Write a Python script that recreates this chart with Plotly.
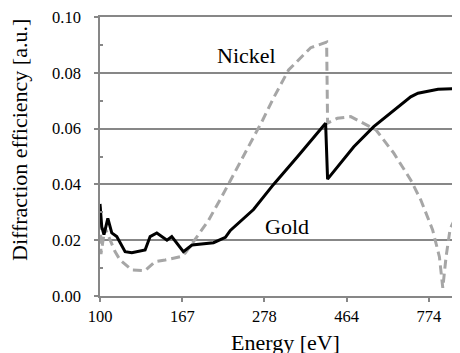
import plotly.graph_objects as go

# Gold (black solid)
gold_e = [100, 101.1, 102.5, 105.0, 107.6, 111.0, 116.9, 121.9, 132.4, 136.6, 142.4, 151.7,
          156.3, 168.0, 177.3, 188.7, 202.6, 218.2, 225.0, 259.9, 294.4, 342.0, 407.0, 412.0,
          485.0, 549.0, 662.0, 691.0, 723.0, 819.0, 928.0, 942.0]
gold_v = [0.033, 0.0248, 0.022, 0.0278, 0.0226, 0.0213, 0.0159, 0.0155, 0.0165, 0.0213, 0.0226, 0.020,
          0.0213, 0.0159, 0.0183, 0.0186, 0.0191, 0.021, 0.0235, 0.031, 0.040, 0.050, 0.0619, 0.0419,
          0.0535, 0.0607, 0.0696, 0.0714, 0.0727, 0.0741, 0.0744, 0.0744]

# Nickel (grey dashed)
nickel_e = [100, 100.6, 101.9, 103.2, 105.0, 109.8, 113.3, 121.9, 132.4, 141.0, 150.0, 164.7,
            170.1, 177.7, 196.2, 214.1, 235.1, 275.0, 294.4, 323.2, 370.9, 409.6, 412.0, 438.0,
            476.0, 557.0, 622.0, 691.0, 736.0, 792.0, 826.0, 843.7, 861.0, 883.0, 942.0]
nickel_v = [0.032, 0.015, 0.020, 0.0244, 0.022, 0.0159, 0.0129, 0.0093, 0.0091, 0.0123, 0.0129, 0.0141,
            0.0154, 0.019, 0.027, 0.036, 0.046, 0.063, 0.071, 0.081, 0.089, 0.091, 0.062, 0.0637,
            0.0643, 0.0595, 0.0512, 0.0416, 0.0344, 0.0237, 0.0141, 0.0029, 0.014, 0.024, 0.032]

x_tickvals = [100, 167, 278, 464, 774]
x_ticktext = ["100", "167", "278", "464", "774"]
y_tickvals = [0.0, 0.02, 0.04, 0.06, 0.08, 0.10]
y_ticktext = ["0.00", "0.02", "0.04", "0.06", "0.08", "0.10"]

FONT = "Liberation Serif"
GRID = "#878787"
OFF = 8  # page body margin offset
W, H = 460, 353
L, T, R = 100 - OFF, 17 - OFF, OFF
B = H - (296 - OFF)
PW, PH = W - L - R, H - T - B


def px_x(px):
    return (px - OFF - L) / PW


def px_y(py):
    return (H - B - (py - OFF)) / PH


fig = go.Figure()
fig.add_trace(go.Scatter(x=nickel_e, y=nickel_v, mode="lines",
                         line=dict(color="#a6a6a6", width=3, dash="9px,5px"),
                         name="Nickel", showlegend=False))
fig.add_trace(go.Scatter(x=gold_e, y=gold_v, mode="lines",
                         line=dict(color="black", width=3),
                         name="Gold", showlegend=False))

fig.update_layout(
    width=W, height=H,
    margin=dict(l=L, r=R, t=T, b=B, autoexpand=False),
    paper_bgcolor="white", plot_bgcolor="white",
    font=dict(family=FONT, color="black", size=16.5),
)
ann = dict(xref="paper", yref="paper", showarrow=False, xanchor="center", yanchor="middle")
fig.add_annotation(text="Nickel", x=px_x(246), y=px_y(56),
                   font=dict(family=FONT, size=22, color="black"), **ann)
fig.add_annotation(text="Gold", x=px_x(287), y=px_y(226),
                   font=dict(family=FONT, size=22, color="black"), **ann)
fig.add_annotation(text="Energy [eV]", x=px_x(285.5), y=px_y(342),
                   font=dict(family=FONT, size=22, color="black"), **ann)
fig.add_annotation(text="Diffraction efficiency [a.u.]", x=px_x(19), y=px_y(140),
                   textangle=-90, font=dict(family=FONT, size=22, color="black"), **ann)

fig.update_xaxes(type="log", range=[2, 2.9727], tickvals=x_tickvals, ticktext=x_ticktext,
                 showgrid=False, showline=True, linecolor=GRID, linewidth=1.5, mirror=True,
                 ticks="outside", ticklen=4, tickcolor=GRID, tickwidth=1.5,
                 tickfont=dict(family=FONT, size=16.5, color="black"),
                 automargin=False, zeroline=False)
fig.update_yaxes(range=[0, 0.1], tickvals=y_tickvals, ticktext=y_ticktext,
                 showgrid=True, gridcolor=GRID, gridwidth=1.5,
                 showline=True, linecolor=GRID, linewidth=1.5,
                 ticks="outside", ticklen=4, tickcolor=GRID, tickwidth=1.5,
                 minor=dict(tickvals=[0.01, 0.03, 0.05, 0.07, 0.09], ticks="inside",
                            ticklen=3, tickcolor=GRID, tickwidth=1.5, showgrid=False),
                 tickfont=dict(family=FONT, size=16.5, color="black"),
                 ticklabelstandoff=10, ticklabeloverflow="allow",
                 automargin=False, zeroline=False)

fig.write_html("out.html")
